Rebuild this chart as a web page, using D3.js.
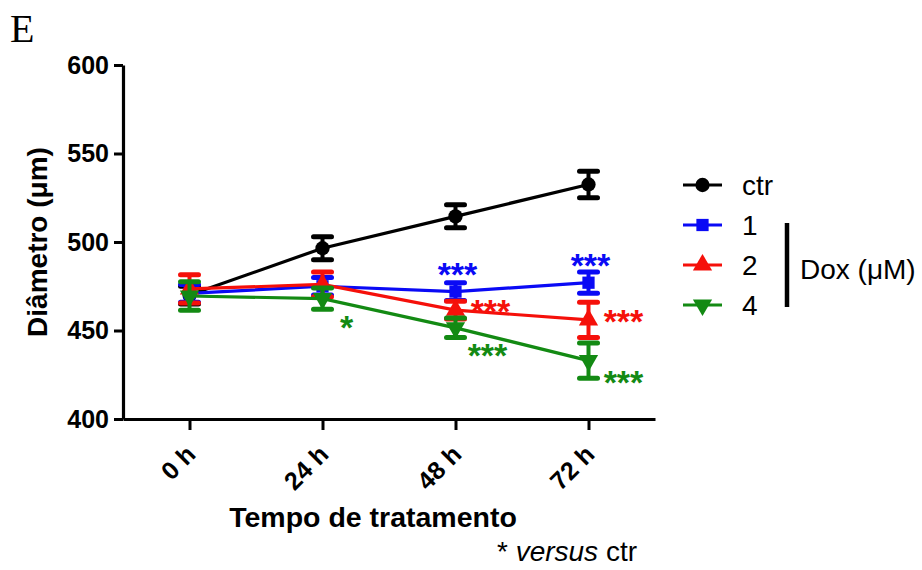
<!DOCTYPE html>
<html lang="pt">
<head>
<meta charset="UTF-8">
<title>Diâmetro – tempo de tratamento</title>
<script src="https://d3js.org/d3.v7.min.js"></script>
<style>
  body { margin: 0; background: #fff; }
  svg { font-family: "Liberation Sans", Arial, sans-serif; }
</style>
</head>
<body>
<div id="chart"></div>
<script>
// Data (mean ± error, µm)
var times = ["0 h", "24 h", "48 h", "72 h"];
var yTicks = [400, 450, 500, 550, 600];
var seriesNames = ["ctr", "1", "2", "4"];
var seriesColors = ["#000000", "#0a0af5", "#f5100a", "#138a13"];

var ctrMean = [470, 496.5, 514.5, 532.5];
var ctrErr = [5, 6.5, 6.5, 7.5];
var dox1Mean = [471, 475, 472, 477];
var dox1Err = [5, 5, 5, 6];
var dox2Mean = [473.5, 476, 461.5, 456];
var dox2Err = [8, 7, 5, 10];
var dox4Mean = [469.5, 468, 451.5, 433];
var dox4Err = [8, 6, 5.5, 10];

// significance marks (versus ctr)
var sigSeries = [3, 1, 2, 3, 1, 2, 3];
var sigTime = [1, 2, 2, 2, 3, 3, 3];
var sigLabel = ["*", "***", "***", "***", "***", "***", "***"];
var sigPlace = ["below", "above", "right", "below", "above", "right", "belowRight"];

var means = [ctrMean, dox1Mean, dox2Mean, dox4Mean];
var errs = [ctrErr, dox1Err, dox2Err, dox4Err];
var series = seriesNames.map(function(name, s) {
    return {
        name: name,
        color: seriesColors[s],
        points: times.map(function(t, i) {
            return { t: i, v: means[s][i], e: errs[s][i] };
        })
    };
});

var width = 922, height = 570;

var svg = d3.select("#chart")
    .append("svg")
    .attr("width", width)
    .attr("height", height);

// scales
var x = d3.scaleLinear()
    .domain([-0.5, times.length - 0.5])
    .range([123, 655]);
var y = d3.scaleLinear()
    .domain([400, 600])
    .range([419, 65]);

// Y axis
var yAxis = svg.append("g")
    .attr("transform", "translate(" + x.range()[0] + ",0)")
    .call(d3.axisLeft(y).tickValues(yTicks).tickSize(9).tickSizeOuter(0).tickPadding(5));
yAxis.select(".domain").attr("stroke-width", 3.2);
yAxis.selectAll(".tick line").attr("stroke-width", 3);
yAxis.selectAll("text")
    .attr("font-size", 25)
    .attr("font-weight", "bold")
    .attr("fill", "#000");

// X axis
var xAxis = svg.append("g")
    .attr("transform", "translate(0," + y.range()[0] + ")")
    .call(d3.axisBottom(x).tickValues(d3.range(times.length))
        .tickFormat(function(i) { return times[i]; })
        .tickSize(11).tickSizeOuter(0));
xAxis.select(".domain").attr("stroke-width", 3.2);
xAxis.selectAll(".tick line").attr("stroke-width", 3);
xAxis.selectAll("text")
    .attr("font-size", 25)
    .attr("font-weight", "bold")
    .attr("fill", "#000")
    .attr("text-anchor", "end")
    .attr("dy", null)
    .attr("y", 0)
    .attr("transform", "translate(7,37) rotate(-45)");

// axis titles
svg.append("text")
    .attr("transform", "translate(47,242) rotate(-90)")
    .attr("text-anchor", "middle")
    .attr("font-size", 28)
    .attr("font-weight", "bold")
    .text("Diâmetro (μm)");

svg.append("text")
    .attr("x", 373)
    .attr("y", 527)
    .attr("text-anchor", "middle")
    .attr("font-size", 28.5)
    .attr("font-weight", "bold")
    .text("Tempo de tratamento");

var note = svg.append("text")
    .attr("x", 637)
    .attr("y", 561)
    .attr("text-anchor", "end")
    .attr("font-size", 28);
note.append("tspan").text("* ");
note.append("tspan").attr("font-style", "italic").text("versus");
note.append("tspan").text(" ctr");

// panel letter
svg.append("text")
    .attr("x", 10)
    .attr("y", 42)
    .attr("font-family", "'Liberation Serif', 'Times New Roman', serif")
    .attr("font-size", 40)
    .text("E");

// markers
var symbolTypes = [d3.symbolCircle, d3.symbolSquare, d3.symbolTriangle, d3.symbolTriangle];
var symbolSizes = [160, 150, 160, 160];
var symbolRotate = [0, 0, 0, 180];
function marker(sel, s) {
    sel.attr("d", d3.symbol().type(symbolTypes[s]).size(symbolSizes[s])())
        .attr("fill", seriesColors[s]);
}

var line = d3.line()
    .x(function(d) { return x(d.t); })
    .y(function(d) { return y(d.v); });

var capW = 9;
series.forEach(function(sr, s) {
    var g = svg.append("g");
    g.append("path")
        .datum(sr.points)
        .attr("fill", "none")
        .attr("stroke", sr.color)
        .attr("stroke-width", 3.2)
        .attr("d", line);

    var eb = g.selectAll(".eb")
        .data(sr.points)
        .enter().append("g")
        .attr("stroke", sr.color);
    eb.append("line")
        .attr("x1", function(d) { return x(d.t); })
        .attr("x2", function(d) { return x(d.t); })
        .attr("y1", function(d) { return y(d.v - d.e); })
        .attr("y2", function(d) { return y(d.v + d.e); })
        .attr("stroke-width", 4);
    eb.append("line")
        .attr("x1", function(d) { return x(d.t) - capW; })
        .attr("x2", function(d) { return x(d.t) + capW; })
        .attr("y1", function(d) { return y(d.v + d.e); })
        .attr("y2", function(d) { return y(d.v + d.e); })
        .attr("stroke-width", 5)
        .attr("stroke-linecap", "round");
    eb.append("line")
        .attr("x1", function(d) { return x(d.t) - capW; })
        .attr("x2", function(d) { return x(d.t) + capW; })
        .attr("y1", function(d) { return y(d.v - d.e); })
        .attr("y2", function(d) { return y(d.v - d.e); })
        .attr("stroke-width", 5)
        .attr("stroke-linecap", "round");

    g.selectAll(".m")
        .data(sr.points)
        .enter().append("path")
        .attr("transform", function(d) {
            return "translate(" + x(d.t) + "," + y(d.v) + ") rotate(" + symbolRotate[s] + ")";
        })
        .call(marker, s);
});

// significance asterisks (offsets from the data point)
var placeOffset = {
    above: [2, -25],
    right: [35, -6],
    below: [24, 21],
    belowRight: [35, 14]
};
sigLabel.forEach(function(lab, k) {
    var s = sigSeries[k], t = sigTime[k];
    var off = placeOffset[sigPlace[k]];
    if (sigPlace[k] === "below" && lab.length > 1) off = [32, 20];
    svg.append("text")
        .attr("x", x(t) + off[0])
        .attr("y", y(means[s][t]) + off[1] + 19)
        .attr("text-anchor", "middle")
        .attr("font-size", 34)
        .attr("font-weight", "bold")
        .attr("fill", seriesColors[s])
        .text(lab);
});

// legend
var legend = svg.append("g").attr("transform", "translate(683,185)");
var legRow = legend.selectAll("g")
    .data(series)
    .enter().append("g")
    .attr("transform", function(d, i) { return "translate(0," + i * 40 + ")"; });
legRow.append("line")
    .attr("x1", 0).attr("x2", 39)
    .attr("stroke", function(d) { return d.color; })
    .attr("stroke-width", 3.2);
legRow.append("path")
    .attr("transform", function(d, i) { return "translate(19.5,0) rotate(" + symbolRotate[i] + ")"; })
    .each(function(d, i) { d3.select(this).call(marker, i); });
legRow.append("text")
    .attr("x", 59)
    .attr("y", 10)
    .attr("font-size", 28)
    .text(function(d) { return d.name; });

legend.append("line")
    .attr("x1", 104).attr("x2", 104)
    .attr("y1", 38).attr("y2", 122)
    .attr("stroke", "#000")
    .attr("stroke-width", 4.5);
legend.append("text")
    .attr("x", 117)
    .attr("y", 94)
    .attr("font-size", 28)
    .text("Dox (μM)");
</script>
</body>
</html>
